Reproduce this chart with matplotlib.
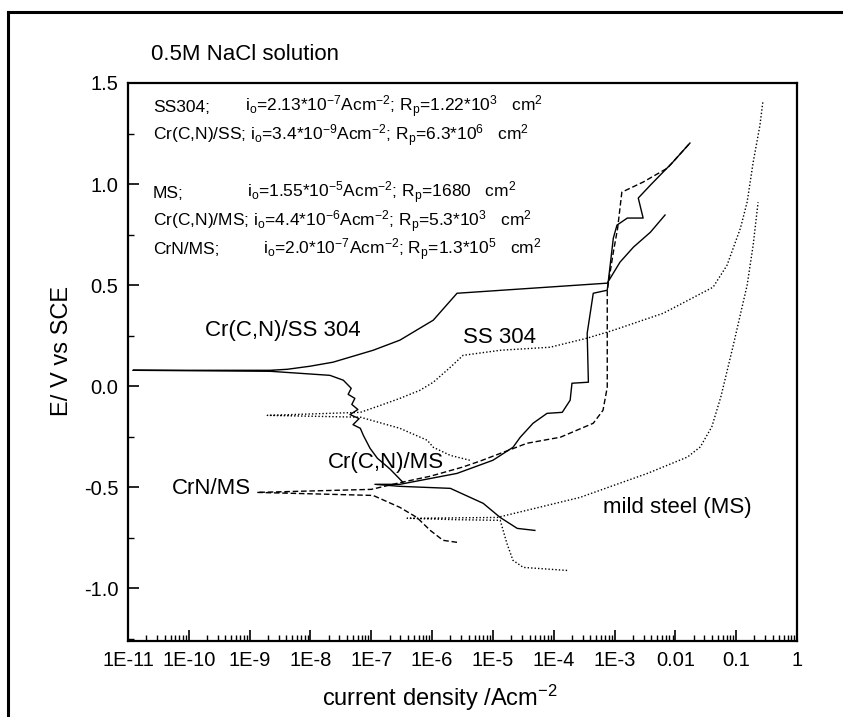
import numpy as np
import matplotlib
matplotlib.use("Agg")
from matplotlib import pyplot as plt
from matplotlib.lines import Line2D
from matplotlib.ticker import LogLocator, MultipleLocator, NullFormatter

plt.rcParams['font.family'] = ['Liberation Sans', 'DejaVu Sans']
plt.rcParams['mathtext.fontset'] = 'custom'
plt.rcParams['mathtext.rm'] = 'Liberation Sans'
plt.rcParams['mathtext.it'] = 'Liberation Sans:italic'

# log10(current density / A cm^-2) and potential (V vs SCE)
# each curve: cathodic end -> corrosion potential spike -> anodic end
crcn_ss_logi = [-6.48, -6.69, -6.90, -7.02, -7.13, -7.18, -7.30, -7.20, -7.35, -7.22,
                -7.32, -7.27, -7.38, -7.33, -7.46, -7.68, -8.17, -8.66,
                -10.92,
                -8.66, -8.38, -8.01, -7.63, -6.97, -6.53, -5.98, -5.59,
                -3.12, -2.91, -2.69, -2.41, -2.17]
crcn_ss_e = [-0.475, -0.41, -0.356, -0.307, -0.243, -0.208, -0.19, -0.16, -0.14, -0.115,
             -0.09, -0.06, -0.04, -0.01, 0.03, 0.054, 0.064, 0.074,
             0.079,
             0.079, 0.084, 0.099, 0.119, 0.178, 0.228, 0.327, 0.46,
             0.51, 0.614, 0.688, 0.762, 0.847]

crcn_ms_logi = [-4.31, -4.60, -4.88, -5.16, -5.70, -6.53,
                -6.94,
                -6.53, -5.59, -5.00, -4.67, -4.55, -4.34, -4.11, -3.86, -3.73, -3.70,
                -3.43, -3.45, -3.35, -3.12, -3.02, -2.96, -2.79, -2.53, -2.61, -2.41,
                -2.04, -1.76]
crcn_ms_e = [-0.713, -0.703, -0.649, -0.579, -0.505, -0.495,
             -0.485,
             -0.485, -0.431, -0.366, -0.302, -0.252, -0.183, -0.134, -0.129, -0.069, 0.015,
             0.02, 0.262, 0.46, 0.475, 0.733, 0.797, 0.832, 0.832, 0.931, 0.995,
             1.109, 1.203]

crn_ms_logi = [-5.59, -5.82, -6.03, -6.25, -6.53, -6.97,
               -8.88,
               -7.00, -6.50, -6.03, -5.50, -5.21, -4.44, -3.89, -3.35, -3.19, -3.12,
               -3.12, -3.02, -2.95, -2.88, -2.53, -2.13, -1.76]
crn_ms_e = [-0.772, -0.762, -0.713, -0.649, -0.599, -0.54,
            -0.525,
            -0.51, -0.475, -0.445, -0.40, -0.37, -0.282, -0.252, -0.183, -0.119, -0.005,
            0.475, 0.663, 0.78, 0.96, 1.01, 1.079, 1.203]

ss304_logi = [-5.38, -5.70, -5.98, -6.08, -6.53, -7.18,
              -8.71,
              -7.18, -6.90, -6.53, -6.20, -5.98, -5.70, -5.49, -4.88, -4.06, -3.45,
              -3.02, -2.20, -1.38, -1.15, -0.93, -0.82, -0.72, -0.61, -0.56]
ss304_e = [-0.366, -0.342, -0.302, -0.267, -0.208, -0.153,
           -0.144,
           -0.129, -0.10, -0.06, -0.02, 0.02, 0.094, 0.153, 0.178, 0.193, 0.238,
           0.277, 0.361, 0.49, 0.599, 0.782, 0.911, 1.109, 1.29, 1.41]

ms_logi = [-3.78, -4.50, -4.67, -4.77, -4.88, -5.60,
           -6.41,
           -4.93, -3.57, -2.46, -1.80, -1.59, -1.40, -1.25, -1.05, -0.82, -0.72, -0.64]
ms_e = [-0.911, -0.896, -0.861, -0.777, -0.663, -0.66,
        -0.653,
        -0.649, -0.55, -0.431, -0.35, -0.30, -0.20, -0.05, 0.20, 0.50, 0.70, 0.91]

xtick_exp = list(range(-11, 1))
xtick_labels = ['1E-11', '1E-10', '1E-9', '1E-8', '1E-7', '1E-6', '1E-5', '1E-4',
                '1E-3', '0.01', '0.1', '1']
ytick_vals = [-1.0, -0.5, 0.0, 0.5, 1.0, 1.5]
ytick_labels = ['-1.0', '-0.5', '0.0', '0.5', '1.0', '1.5']

names = ['SS304;', 'Cr(C,N)/SS;', 'MS;', 'Cr(C,N)/MS;', 'CrN/MS;']
io_vals = ['2.13*10$^\\mathrm{-7}$', '3.4*10$^\\mathrm{-9}$', '1.55*10$^\\mathrm{-5}$',
           '4.4*10$^\\mathrm{-6}$', '2.0*10$^\\mathrm{-7}$']
rp_vals = ['1.22*10$^\\mathrm{3}$', '6.3*10$^\\mathrm{6}$', '1680',
           '5.3*10$^\\mathrm{3}$', '1.3*10$^\\mathrm{5}$']

W, H = 843, 717


def fx(px):
    return px / W


def fy(py):
    return 1 - py / H


fig = plt.figure(figsize=(W / 100, H / 100), dpi=100)
ax = fig.add_axes([fx(128), fy(641), fx(797) - fx(128), fy(83) - fy(641)])

lw = 1.0
ax.plot(10 ** np.array(crcn_ss_logi), crcn_ss_e, color='black', lw=lw)
ax.plot(10 ** np.array(crcn_ms_logi), crcn_ms_e, color='black', lw=lw)
ax.plot(10 ** np.array(crn_ms_logi), crn_ms_e, color='black', lw=lw, linestyle=(0, (4, 2)))
ax.plot(10 ** np.array(ss304_logi), ss304_e, color='black', lw=lw, linestyle=(0, (1, 1.5)))
ax.plot(10 ** np.array(ms_logi), ms_e, color='black', lw=lw, linestyle=(0, (1, 1.5)))

ax.set_xscale('log')
ax.set_xlim(1e-11, 1)
ax.set_ylim(-1.26, 1.5)
ax.set_xticks([10.0 ** k for k in xtick_exp])
ax.set_xticklabels(xtick_labels)
ax.xaxis.set_minor_locator(LogLocator(base=10, subs=np.arange(2, 10), numticks=100))
ax.xaxis.set_minor_formatter(NullFormatter())
ax.set_yticks(ytick_vals)
ax.set_yticklabels(ytick_labels)
ax.yaxis.set_minor_locator(MultipleLocator(0.25))

ax.tick_params(which='major', direction='in', length=8, width=1.2, top=False, right=False,
               labelsize=14.5, colors='black')
ax.tick_params(axis='x', which='major', pad=7)
ax.tick_params(axis='y', which='major', pad=7)
ax.tick_params(which='minor', direction='in', length=4, width=1.0, top=False, right=False)
for s in ax.spines.values():
    s.set_linewidth(1.6)

# curve labels
ax.text(10 ** -9.73, 0.277, 'Cr(C,N)/SS 304', fontsize=16, va='center', ha='left')
ax.text(10 ** -5.49, 0.243, 'SS 304', fontsize=16, va='center', ha='left')
ax.text(10 ** -7.71, -0.376, 'Cr(C,N)/MS', fontsize=16, va='center', ha='left')
ax.text(10 ** -10.28, -0.505, 'CrN/MS', fontsize=16, va='center', ha='left')
ax.text(10 ** -3.19, -0.599, 'mild steel (MS)', fontsize=16, va='center', ha='left')

# kinetic parameters
rows_y = [107, 136, 193, 222, 250]
io_x = [245, None, 247, None, 263]
for name, io, rp, py, px in zip(names, io_vals, rp_vals, rows_y, io_x):
    s = ('i$_\\mathrm{o}$=' + io + 'Acm$^\\mathrm{-2}$; R$_\\mathrm{p}$=' + rp
         + '   cm$^\\mathrm{2}$')
    if px is None:
        fig.text(fx(153), fy(py), name + ' ' + s, fontsize=12.5, va='center', ha='left')
    else:
        fig.text(fx(153), fy(py), name, fontsize=12.5, va='center', ha='left')
        fig.text(fx(px), fy(py), s, fontsize=12.5, va='center', ha='left')

fig.text(fx(151), fy(55), '0.5M NaCl solution', fontsize=16, va='center', ha='left')
fig.text(fx(440), fy(698), 'current density /Acm$^\\mathrm{-2}$', fontsize=17,
         va='center', ha='center')
fig.text(fx(62), fy(351), 'E/ V vs SCE', fontsize=17, va='center', ha='center',
         rotation=90)

# outer frame of the page
fig.add_artist(Line2D([fx(8), fx(8)], [0, fy(12)], transform=fig.transFigure,
                      color='black', lw=2.2))
fig.add_artist(Line2D([fx(8), 1], [fy(12), fy(12)], transform=fig.transFigure,
                      color='black', lw=2.2))

fig.savefig('out.png', dpi=100)
